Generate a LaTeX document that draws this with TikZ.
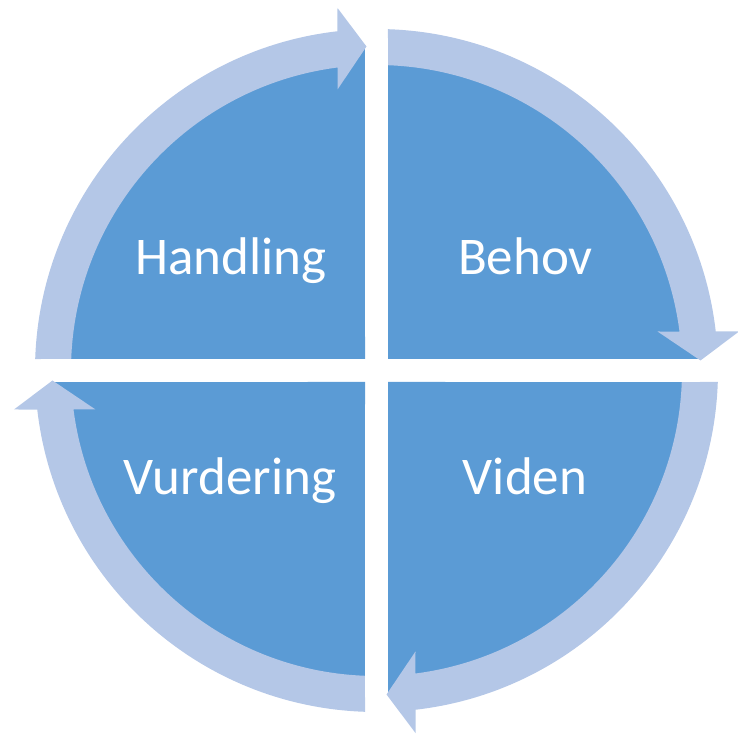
\documentclass[tikz,border=0pt]{standalone}
\usepackage{fontspec}
\setmainfont{Carlito}
\usepackage{xcolor}
\usepackage{tikz}
\definecolor{sector}{HTML}{5B9BD5}
\definecolor{band}{HTML}{B4C7E7}
\definecolor{lbl}{HTML}{FFFFFF}
\tikzset{
  sectorFill/.style={fill=sector},
  arcBand/.style={fill=band},
  quadLbl/.style={text=lbl, font=\fontsize{53}{62}\selectfont, anchor=base, inner sep=0pt},
}
\newcommand{\QuarterSector}{%
  \fill[sectorFill] (11.5,11.5) -- (87.95:322pt)
    arc[start angle=87.95, end angle=2.05, radius=322pt] -- cycle;
}
\newcommand{\QuarterArrow}{%
  \fill[arcBand] (87.84:305.5pt) -- (88.07:341.5pt)
    arc[start angle=88.07, end angle=6.56, radius=341.5pt]
    -- (362.5,39) -- (324,10) -- (281,39) -- (7.33:305.5pt)
    arc[start angle=7.33, end angle=87.84, radius=305.5pt] -- cycle;
}

\begin{document}
\begin{tikzpicture}[x=1pt, y=1pt]
  \useasboundingbox (-376.5,-364.5) rectangle (361.5,370.5);

  % four quarters
  \foreach \rot in {0,-90,-180,-270} {
    \begin{scope}[rotate=\rot] \QuarterSector \end{scope}
  }

  % cycle arrows
  \foreach \rot in {0,-90,-180,90} {
    \begin{scope}[rotate=\rot] \QuarterArrow \end{scope}
  }

  \node[quadLbl] (handling)  at (-145.5,95.5)  {Handling};
  \node[quadLbl] (behov)     at (149,95.5)     {Behov};
  \node[quadLbl] (vurdering) at (-146.5,-124.5) {Vurdering};
  \node[quadLbl] (viden)     at (148.5,-124.5) {Viden};
\end{tikzpicture}
\end{document}
